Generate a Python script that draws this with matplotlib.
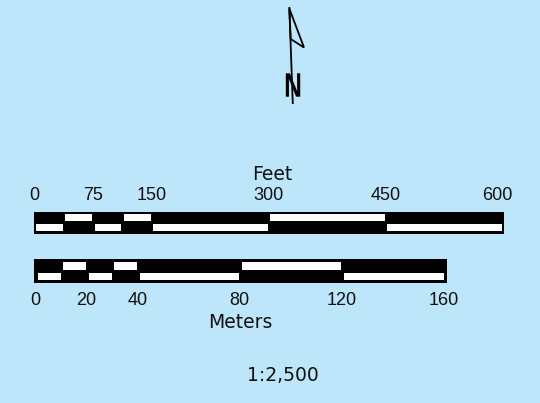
import matplotlib
matplotlib.use("Agg")
import matplotlib.pyplot as plt
from matplotlib.patches import Polygon
from matplotlib.patheffects import AbstractPathEffect
from matplotlib.transforms import Affine2D, ScaledTranslation

plt.rcParams['font.family'] = ['Liberation Sans', 'DejaVu Sans']

BG = '#BEE6FA'
W, H = 540, 403

# data
feet_ticks = [0, 75, 150, 300, 450, 600]
feet_top_white = [(37.5, 75), (112.5, 150), (300, 450)]
feet_bottom_white = [(0, 37.5), (75, 112.5), (150, 300), (450, 600)]

meter_ticks = [0, 20, 40, 80, 120, 160]
meter_top_white = [(10, 20), (30, 40), (80, 120)]
meter_bottom_white = [(0, 10), (20, 30), (40, 80), (120, 160)]

feet_label = "Feet"
meter_label = "Meters"
scale_text = "1:2,500"
north_label = "N"

TXT = '#111111'
TICK_FONT = ['Liberation Sans', 'DejaVu Sans']
LABEL_FONT = ['DejaVu Sans']

fig = plt.figure(figsize=(W / 100, H / 100), dpi=100, facecolor=BG)


def px_axes(x0, y0, x1, y1):
    return fig.add_axes([x0 / W, 1 - y1 / H, (x1 - x0) / W, (y1 - y0) / H])


def draw_bar(ax, top, bottom, top_rows, bottom_rows, lin, rin):
    for (a, b) in top_rows:
        ax.bar(x=a + lin, height=top[1] - top[0], width=(b - a) - lin - rin,
               bottom=top[0], align='edge', color='white', linewidth=0)
    for (a, b) in bottom_rows:
        ax.bar(x=a + lin, height=bottom[1] - bottom[0], width=(b - a) - lin - rin,
               bottom=bottom[0], align='edge', color='white', linewidth=0)


# Feet bar: pixels 34 -> 503.7, 0 ft at 34.5, 600 ft at 502.5
fs = (502.5 - 34.5) / 600.0
axf = px_axes(34, 211.7, 503.7, 234)
axf.set_facecolor('black')
axf.set_xlim(-0.5 / fs, 600 + 1.2 / fs)
axf.set_ylim(234, 211.7)
draw_bar(axf, (214, 221), (224.3, 231), feet_top_white, feet_bottom_white,
         1.6 / fs, 1.0 / fs)
for s in axf.spines.values():
    s.set_visible(False)
axf.set_yticks([])
axf.set_xticks(feet_ticks)
axf.set_xticklabels([str(t) for t in feet_ticks], fontsize=13, color=TXT,
                    family=TICK_FONT)
axf.xaxis.set_ticks_position('top')
axf.xaxis.set_label_position('top')
axf.tick_params(axis='x', length=0, pad=5.9, top=True, bottom=False,
                labeltop=True, labelbottom=False)
axf.set_xlabel(feet_label, fontsize=13.5, labelpad=5.0, color=TXT, family=LABEL_FONT)
axf.xaxis.label.set_x((272 - 34) / 469.7)
# last label sits slightly inside the bar end in the reference
last = axf.xaxis.get_major_ticks()[-1].label2
last.set_transform(last.get_transform() + ScaledTranslation(-5 / 100, 0, fig.dpi_scale_trans))

# Meters bar: pixels 34 -> 446.7, 0 m at 35.5, 160 m at 444
ms = (444 - 35.5) / 160.0
axm = px_axes(34, 259, 446.7, 283.3)
axm.set_facecolor('black')
axm.set_xlim(-1.5 / ms, 160 + 2.7 / ms)
axm.set_ylim(283.3, 259)
draw_bar(axm, (262.3, 270), (272.7, 280), meter_top_white, meter_bottom_white,
         2.2 / ms, 0.4 / ms)
for s in axm.spines.values():
    s.set_visible(False)
axm.set_yticks([])
axm.set_xticks(meter_ticks)
axm.set_xticklabels([str(t) for t in meter_ticks], fontsize=13, color=TXT,
                    family=TICK_FONT)
axm.tick_params(axis='x', length=0, pad=6.3)
axm.set_xlabel(meter_label, fontsize=13.5, labelpad=2.7, color=TXT, family=LABEL_FONT)

# overlay for north arrow and scale text
ov = fig.add_axes([0, 0, 1, 1])
ov.set_xlim(0, W)
ov.set_ylim(H, 0)
ov.axis('off')
ov.patch.set_alpha(0)


class Squeeze(AbstractPathEffect):
    def __init__(self, cx, sx):
        super().__init__()
        self.cx = cx
        self.sx = sx

    def draw_path(self, renderer, gc, tpath, affine, rgbFace=None):
        extra = Affine2D().translate(-self.cx, 0).scale(self.sx, 1).translate(self.cx, 0)
        renderer.draw_path(gc, tpath, affine + extra, rgbFace)


n_x = 293
n_disp_x = ov.transData.transform((n_x, 0))[0]
ov.text(n_x, 96.7, north_label, fontsize=24.5, fontweight='bold', ha='center',
        va='baseline', color='black', family=['Liberation Sans'],
        path_effects=[Squeeze(n_disp_x, 0.72)])
ov.plot([289.3, 292.8], [7, 104], color='black', lw=1.3, solid_capstyle='butt')
ov.add_patch(Polygon([(289.3, 8.5), (304, 47.5), (290.7, 39)], closed=True,
                     facecolor='none', edgecolor='black', lw=1.3))

ov.text(283, 381, scale_text, fontsize=13.5, ha='center', va='baseline', color=TXT,
        family=LABEL_FONT)

fig.savefig('out.png', dpi=100, facecolor=BG)
